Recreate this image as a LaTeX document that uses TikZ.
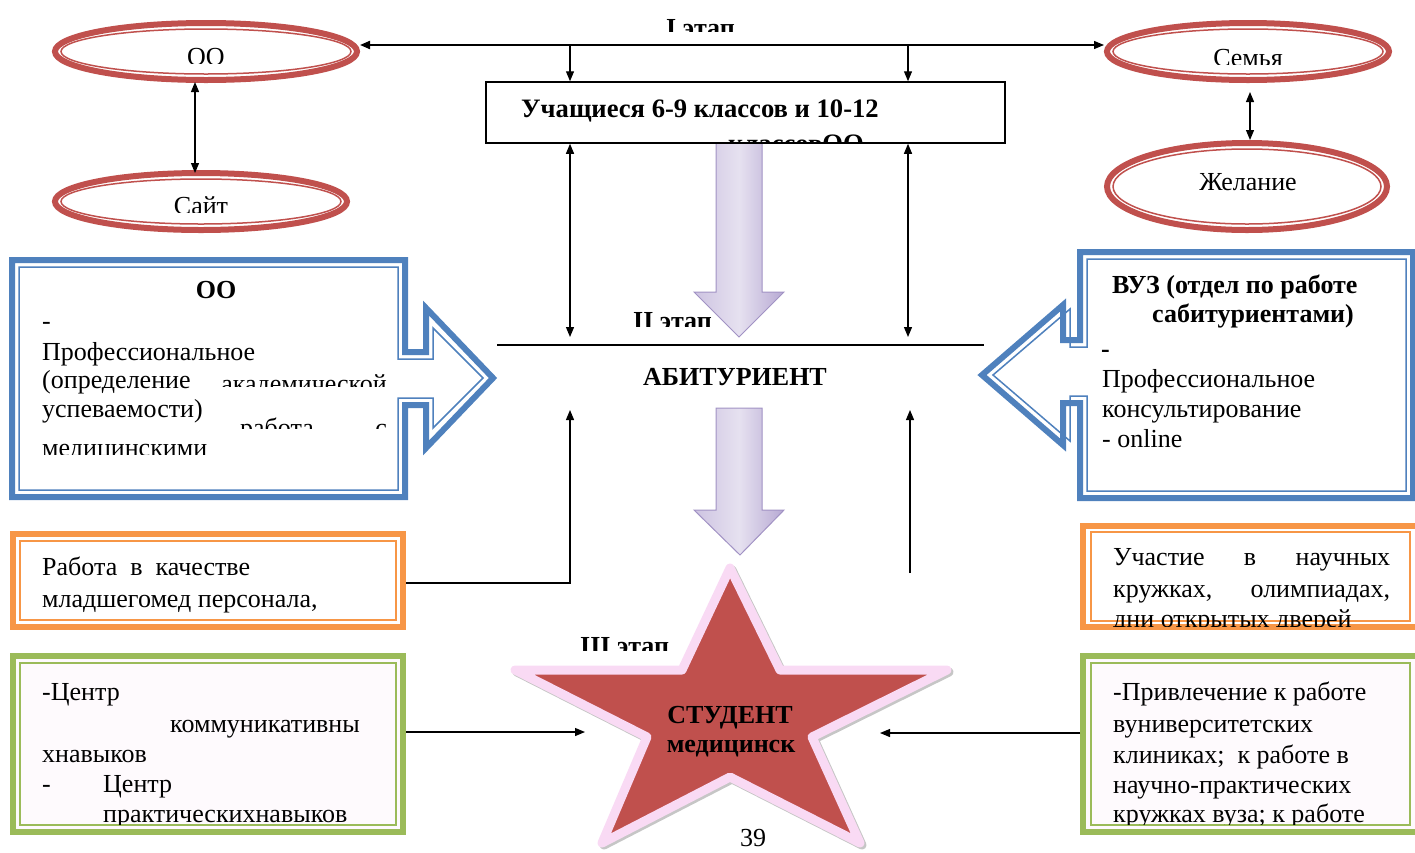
\documentclass[tikz,border=0pt]{standalone}
\usepackage{fontspec}
\setmainfont{Liberation Serif}
\usetikzlibrary{arrows.meta,shapes.geometric,calc}
\definecolor{eRed}{HTML}{C0504D}
\definecolor{bBlue}{HTML}{4F81BD}
\definecolor{oOrange}{HTML}{F79646}
\definecolor{gGreen}{HTML}{9BBB59}
\definecolor{starPink}{HTML}{F9DAF4}
\definecolor{pLeft}{HTML}{CDC3E1}
\definecolor{pMid}{HTML}{E6E1F0}
\definecolor{pRight}{HTML}{B7A9D3}
\definecolor{pLine}{HTML}{A192C4}
\definecolor{gFill}{HTML}{FEFAFD}
\begin{document}
\begin{tikzpicture}[x=1pt,y=-1pt,
  t/.style={font=\fontsize{26}{30}\selectfont, inner sep=0pt, anchor=base west},
  tb/.style={font=\fontsize{26}{30}\selectfont\bfseries, inner sep=0pt, anchor=base west},
  tc/.style={t, anchor=base},
  tbc/.style={tb, anchor=base},
  arr/.style={-{Triangle[length=10pt,width=8pt]}, line width=1.2pt},
  darr/.style={{Triangle[length=10pt,width=8pt]}-{Triangle[length=10pt,width=8pt]}, line width=1.2pt},
  ell/.style={ellipse, draw=eRed, line width=6pt, inner sep=0pt, fill=white},
  elli/.style={ellipse, draw=eRed, line width=1.5pt, inner sep=0pt},
  boxo/.style={rectangle, line width=6pt, inner sep=0pt, fill=white},
  boxi/.style={rectangle, line width=1.5pt, inner sep=0pt},
  parrow/.style={left color=pLeft, right color=pRight, middle color=pMid},
]
\useasboundingbox (0,0) rectangle (1415,852);
\clip (0,0) rectangle (1415,852);

% ---------- ellipses ----------
\node[ell, minimum width=302pt, minimum height=57pt] (oo) at (206,51.5) {};
\node[elli, minimum width=290pt, minimum height=45pt] (ooi) at (oo) {};
\node[ell, minimum width=292pt, minimum height=57pt] (sajt) at (201,201.5) {};
\node[elli, minimum width=280pt, minimum height=45pt] (sajti) at (sajt) {};
\node[ell, minimum width=282pt, minimum height=57pt] (semya) at (1248,51.5) {};
\node[elli, minimum width=270pt, minimum height=45pt] (semyai) at (semya) {};
\node[ell, minimum width=280pt, minimum height=87pt] (zhel) at (1247,186.5) {};
\node[elli, minimum width=268pt, minimum height=75pt] (zheli) at (zhel) {};

\begin{scope}\clip (150,40) rectangle (260,63);
\node[tc] (ootxt) at (206,65) {ОО};\end{scope}
\begin{scope}\clip (150,190) rectangle (260,212);
\node[tc] (sajttxt) at (201,214) {Сайт};\end{scope}
\begin{scope}\clip (1190,40) rectangle (1310,64);
\node[tc] (semyatxt) at (1248,66) {Семья};\end{scope}
\node[tc] (zheltxt) at (1248,190) {Желание};

\coordinate (ooA) at (195,82);
\coordinate (sajtA) at (195,173);
\draw[darr] (ooA) -- (sajtA);
\coordinate (semA) at (1250,92);
\coordinate (zhA) at (1250,140);
\draw[darr] (semA) -- (zhA);

% ---------- stage I ----------
\begin{scope}\clip (650,10) rectangle (760,31);
\node[tb] (st1) at (666,36) {I этап};\end{scope}

\coordinate (tl) at (570,45);
\coordinate (tr) at (908,45);
\draw[arr, line width=2pt] (tl) -- (oo.east |- tl);
\draw[arr] (tl) -- (semya.west |- tl);

% purple arrow 1
\shade[parrow] (716,140) -- (762,140) -- (762,292) -- (784,292) -- (739,337) -- (694,292) -- (716,292) -- cycle;
\draw[pLine, line width=1pt] (716,140) -- (762,140) -- (762,292) -- (784,292) -- (739,337) -- (694,292) -- (716,292) -- cycle;

\node[draw, line width=1.5pt, fill=white, minimum width=519pt, minimum height=61pt, inner sep=0pt] (box) at (745.5,112.5) {};
\node[tb, font=\fontsize{26.6}{30}\selectfont\bfseries] (boxt1) at (521,117) {Учащиеся 6-9 классов и 10-12};
\begin{scope}\clip (700,120) rectangle (900,142);
\node[tb, font=\fontsize{26.6}{30}\selectfont\bfseries] (boxt2) at (728,152) {классовОО};\end{scope}

\draw[arr] (tl) -- (box.north -| tl);
\draw[arr] (tr) -- (box.north -| tr);

% ---------- stage II ----------
\coordinate (la) at (570,337);
\coordinate (ra) at (908,337);
\draw[darr] (box.south -| la) -- (la);
\draw[darr] (box.south -| ra) -- (ra);

\begin{scope}\clip (620,300) rectangle (720,326);
\node[tb] (st2) at (633,329) {II этап};\end{scope}
\coordinate (hl1) at (497,345);
\coordinate (hl2) at (984,345);
\draw[line width=1.5pt] (hl1) -- (hl2);
\node[tbc] (abit) at (735,385) {АБИТУРИЕНТ};

% ---------- left blue callout ----------
\draw[bBlue, line width=6pt, fill=white, line join=miter]
  (12,260) -- (405,260) -- (405,352) -- (426,352) -- (426,308) -- (493,378)
  -- (426,448) -- (426,405) -- (405,405) -- (405,497) -- (12,497) -- cycle;
\draw[bBlue, line width=1.5pt]
  (19,267) -- (398,267) -- (398,359) -- (433,359) -- (433,328) -- (483,378)
  -- (433,428) -- (433,398) -- (398,398) -- (398,490) -- (19,490) -- cycle;
\node[tbc] (lcT) at (216,298) {ОО};
\node[t] (lc1) at (42,329) {-};
\node[t] (lc2) at (42,360) {Профессиональное};
\node[t] (lc3) at (42,388) {(определение};
\begin{scope}\clip (210,360) rectangle (395,386);
\node[t, anchor=base east] (lc3b) at (387,392) {академической};\end{scope}
\node[t] (lc4) at (42,417) {успеваемости)};
\begin{scope}\clip (230,410) rectangle (395,428);
\node[t] (lc4b) at (240,436) {работа};
\node[t, anchor=base east] (lc4c) at (387,436) {с};\end{scope}
\begin{scope}\clip (30,430) rectangle (300,454);
\node[t] (lc5) at (42,456) {медицинскими};\end{scope}

% ---------- right blue callout ----------
\draw[bBlue, line width=6pt, fill=white, line join=miter]
  (1413,252) -- (1080,252) -- (1080,340) -- (1063,340) -- (1063,305) -- (982,375)
  -- (1063,445) -- (1063,403) -- (1080,403) -- (1080,498) -- (1413,498) -- cycle;
\draw[bBlue, line width=1.5pt]
  (1406,259) -- (1087,259) -- (1087,347) -- (1070,347) -- (1070,309) -- (993,375)
  -- (1070,441) -- (1070,396) -- (1087,396) -- (1087,491) -- (1406,491) -- cycle;
\node[tb] (rcT1) at (1112,293) {ВУЗ (отдел по работе};
\node[tb] (rcT2) at (1152,322) {сабитуриентами)};
\node[tb] (rc0) at (1101,357) {-};
\node[t] (rc1) at (1102,387) {Профессиональное};
\node[t] (rc2) at (1102,417) {консультирование};
\node[t] (rc3) at (1102,447) {- online};

% ---------- lower boxes ----------
\node[boxo, draw=oOrange, minimum width=390pt, minimum height=93pt] (orl) at (208,580.5) {};
\node[boxi, draw=oOrange, minimum width=376pt, minimum height=79pt] (orli) at (orl) {};
\node[t] (orl1) at (42,575) {Работа\ \ в\ \ качестве};
\node[t] (orl2) at (42,607) {младшегомед персонала,};

\node[boxo, draw=gGreen, fill=gFill, minimum width=390pt, minimum height=176pt] (grl) at (208,744) {};
\node[boxi, draw=gGreen, minimum width=376pt, minimum height=162pt] (grli) at (grl) {};
\node[t] (grl1) at (42,700) {-Центр};
\node[t] (grl2) at (170,732) {коммуникативны};
\node[t] (grl3) at (42,762) {хнавыков};
\node[t] (grl4) at (42,792) {-};
\node[t] (grl4b) at (103,792) {Центр};
\begin{scope}\clip (90,800) rectangle (400,824);
\node[t] (grl5) at (103,822) {практическихнавыков};\end{scope}

\node[boxo, draw=oOrange, minimum width=335pt, minimum height=101pt] (orr) at (1250.5,576.5) {};
\node[boxi, draw=oOrange, minimum width=319pt, minimum height=89pt] (orri) at (orr) {};
\node[t] (orr1) at (1113,565) {\makebox[277pt][s]{Участие в научных}};
\node[t] (orr2) at (1113,597) {\makebox[277pt][s]{кружках, олимпиадах,}};
\begin{scope}\clip (1100,600) rectangle (1405,626);
\node[t] (orr3) at (1113,627) {дни открытых дверей};\end{scope}

\node[boxo, draw=gGreen, fill=gFill, minimum width=335pt, minimum height=176pt] (grr) at (1250.5,744) {};
\node[boxi, draw=gGreen, minimum width=319pt, minimum height=162pt] (grri) at (grr) {};
\node[t] (grr1) at (1113,700) {-Привлечение к работе};
\node[t] (grr2) at (1113,732) {вуниверситетских};
\node[t] (grr3) at (1113,763) {клиниках;\ \ к работе в};
\node[t] (grr4) at (1113,793) {научно-практических};
\begin{scope}\clip (1100,800) rectangle (1405,824);
\node[t] (grr5) at (1113,822) {кружках вуза; к работе};\end{scope}

% ---------- connectors to АБИТУРИЕНТ ----------
\coordinate (lc) at (570,583);
\coordinate (lup) at (570,410);
\draw[arr] (orl.east |- lc) -- (lc) -- (lup);
\coordinate (rc) at (910,573);
\coordinate (rup) at (910,410);
\draw[arr] (rc) -- (rup);

% ---------- star ----------
\draw[gray!45, line width=9pt, line join=round, shift={(2,2)}]
  (730,568) -- (780,670) -- (947,670) -- (812,737) -- (860,843) -- (730,777)
  -- (602,843) -- (647,737) -- (515,670) -- (682,670) -- cycle;
\draw[fill=eRed, draw=starPink, line width=9pt, line join=round]
  (730,568) -- (780,670) -- (947,670) -- (812,737) -- (860,843) -- (730,777)
  -- (602,843) -- (647,737) -- (515,670) -- (682,670) -- cycle;
\node[tbc] (stud1) at (730,723) {СТУДЕНТ};
\node[tbc] (stud2) at (731,752) {медицинск};
\node[tc] (pgnum) at (753,846) {39};

% purple arrow 2
\shade[parrow] (716,408) -- (762,408) -- (762,510) -- (784,510) -- (740,555) -- (694,510) -- (716,510) -- cycle;
\draw[pLine, line width=1pt] (716,408) -- (762,408) -- (762,510) -- (784,510) -- (740,555) -- (694,510) -- (716,510) -- cycle;

\begin{scope}\clip (570,625) rectangle (680,650);
\node[tb] (st3) at (580,654) {III этап};\end{scope}

\coordinate (gla) at (585,732);
\draw[arr] (grl.east |- gla) -- (gla);
\coordinate (gra) at (880,733);
\draw[arr] (grr.west |- gra) -- (gra);
\end{tikzpicture}
\end{document}
